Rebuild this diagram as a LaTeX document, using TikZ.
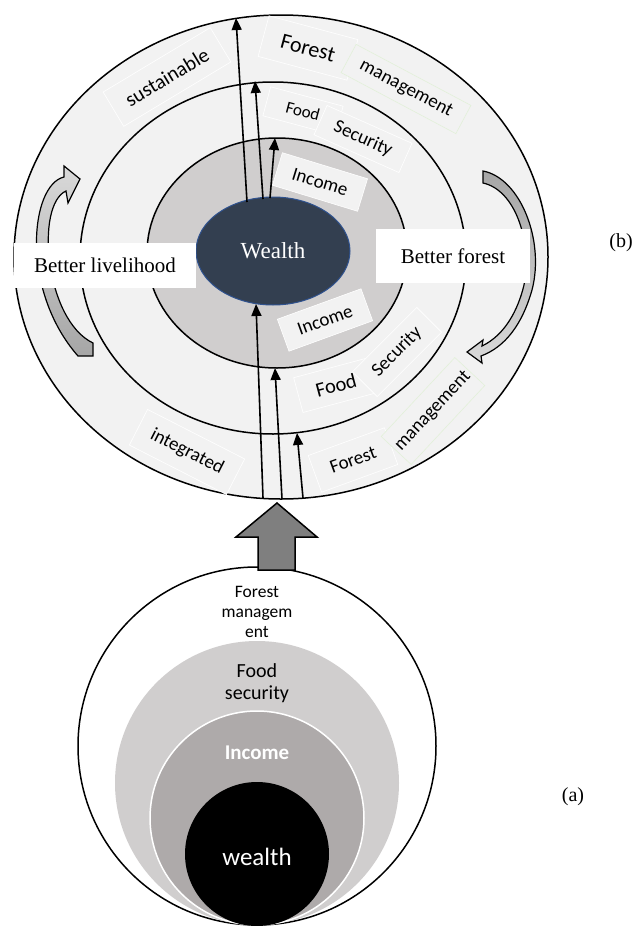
\documentclass[tikz,border=0pt]{standalone}
\usepackage{fontspec}
\setmainfont{Liberation Serif}
\newfontfamily\calibri{Carlito}
\usetikzlibrary{shapes.geometric,arrows.meta}

\definecolor{ringfill}{HTML}{F2F2F2}
\definecolor{incomering}{HTML}{D0CECE}
\definecolor{wealthfill}{HTML}{333F50}
\definecolor{wealthline}{HTML}{2F528F}
\definecolor{incomefill}{HTML}{AEAAAA}
\definecolor{greenline}{HTML}{E2F0D9}
\definecolor{blockgray}{HTML}{7F7F7F}
\definecolor{lightarrow}{HTML}{D9D9D9}
\definecolor{darkarrow}{HTML}{A6A6A6}

\begin{document}
\begin{tikzpicture}[x=1pt, y=-1pt,
    ring/.style={ellipse, draw, line width=1.5pt, fill=ringfill, inner sep=0pt},
    tag/.style={draw=white, line width=0.6pt, fill=ringfill, inner sep=0pt, font=\calibri\fontsize{19}{22}\selectfont},
    greentag/.style={tag, draw=greenline},
    sidebox/.style={fill=white, inner sep=0pt, font=\fontsize{21}{24}\selectfont},
    uparrow/.style={line width=1.6pt, -{Triangle[length=12pt, width=10pt]}},
    disc/.style={circle, inner sep=0pt},
    bendarrow/.style={draw, line width=1.2pt},
]
\useasboundingbox (0,0) rectangle (638,926);

% (b) the rings
\node[ring, minimum width=534pt, minimum height=484pt] (outer) at (281,257) {};

\path[bendarrow, top color=lightarrow, bottom color=darkarrow]
    (80,179) -- (64,166) -- (64,177)
    .. controls (30,185) and (20,290) .. (78,356)
    -- (93,356) -- (93,343)
    .. controls (45,320) and (35,205) .. (66,191)
    -- (68,203) -- cycle;
\path[bendarrow, top color=darkarrow, bottom color=lightarrow]
    (483,171) .. controls (520,178) and (545,240) .. (532,290)
    .. controls (522,325) and (505,347) .. (481,356)
    -- (482,363) -- (467,352) -- (483,340) -- (482,346)
    .. controls (505,335) and (518,310) .. (524,285)
    .. controls (532,240) and (515,190) .. (483,183) -- cycle;

\node[ring, minimum width=386pt, minimum height=352pt] (middle) at (273,258) {};
\node[ring, fill=incomering, minimum width=260pt, minimum height=230pt] (inner) at (277,253) {};
\node[ellipse, draw=wealthline, line width=1pt, fill=wealthfill, minimum width=154pt, minimum height=108pt,
      text=white, font=\fontsize{23}{26}\selectfont] (wealth) at (273,251) {Wealth};

\node[tag, rotate=31, minimum width=125pt, minimum height=40pt, font=\calibri\fontsize{20.5}{23}\selectfont] (sustT) at (167,77) {sustainable};
\node[tag, rotate=-15, minimum width=92pt, minimum height=42pt, font=\calibri\fontsize{22}{24}\selectfont] (forestT) at (308,48) {Forest};
\node[greentag, rotate=-28, minimum width=130pt, minimum height=32pt] (mgmtT) at (406,89) {management};
\node[tag, rotate=-15, minimum width=75pt, minimum height=30pt, font=\calibri\fontsize{17}{19}\selectfont] (foodT) at (303,111) {Food};
\node[tag, rotate=-24, minimum width=93pt, minimum height=32pt] (secT) at (363,139) {Security};
\node[tag, rotate=-17, minimum width=89pt, minimum height=34pt] (incT) at (320,182) {Income};

\node[tag, rotate=20, minimum width=89pt, minimum height=34pt] (incB) at (325,320) {Income};
\node[tag, rotate=15, minimum width=78pt, minimum height=36pt, font=\calibri\fontsize{20.5}{23}\selectfont] (foodB) at (336,385) {Food};
\node[tag, rotate=45, minimum width=91pt, minimum height=35pt] (secB) at (397,352) {Security};
\node[tag, rotate=20, minimum width=81pt, minimum height=39pt] (forestB) at (353,460) {Forest};
\node[greentag, rotate=47, minimum width=108pt, minimum height=41pt] (mgmtB) at (433,411) {management};
\node[tag, rotate=-27, minimum width=109pt, minimum height=40pt] (integB) at (187,452) {integrated};

\node[sidebox, minimum width=182pt, minimum height=45pt] (livelihood) at (105,265) {Better livelihood};
\node[sidebox, minimum width=154pt, minimum height=54pt] (betterforest) at (453,256) {Better forest};

% arrows out of and into the wealth core
\coordinate (w1) at (247,202); \coordinate (t1) at (236,18);
\coordinate (w2) at (263,199); \coordinate (t2) at (255,81);
\coordinate (w3) at (270,198); \coordinate (t3) at (275,138);
\coordinate (b1) at (263,498); \coordinate (s1) at (256,304);
\coordinate (b2) at (282,499); \coordinate (s2) at (275,368);
\coordinate (b3) at (303,498); \coordinate (s3) at (297,433);
\draw[uparrow] (w1) -- (t1);
\draw[uparrow] (w2) -- (t2);
\draw[uparrow] (w3) -- (t3);
\draw[uparrow] (b1) -- (s1);
\draw[uparrow] (b2) -- (s2);
\draw[uparrow] (b3) -- (s3);

\node[font=\fontsize{20}{24}\selectfont] (blabel) at (621,243) {(b)};

% (a) the nested circles
\node[disc, draw, line width=1.5pt, fill=white, minimum size=358pt] (fmcircle) at (257,746) {};
\node[disc, fill=incomering, minimum size=284pt] (fscircle) at (257,783) {};
\node[disc, draw=white, line width=1.5pt, fill=incomefill, minimum size=214pt] (inccircle) at (257,818) {};
\node[disc, fill=black, minimum size=144pt] (wcircle) at (257,854) {};

\node[font=\calibri\fontsize{17.5}{20}\selectfont, align=center] (fmlabel) at (257,612) {Forest\\managem\\ent};
\node[font=\calibri\fontsize{20}{22}\selectfont, align=center] (fslabel) at (257,683) {Food\\security};
\node[font=\calibri\bfseries\fontsize{21}{24}\selectfont, text=white] (inclabel) at (257,753) {Income};
\node[font=\calibri\fontsize{25}{28}\selectfont, text=white] (wlabel) at (257,857) {wealth};

\draw[line width=1.5pt, fill=blockgray]
    (277,503) -- (317,537) -- (295,537) -- (295,570) -- (258,570) -- (258,537) -- (236,537) -- cycle;

\node[font=\fontsize{20}{24}\selectfont] (alabel) at (573,797) {(a)};
\end{tikzpicture}
\end{document}
